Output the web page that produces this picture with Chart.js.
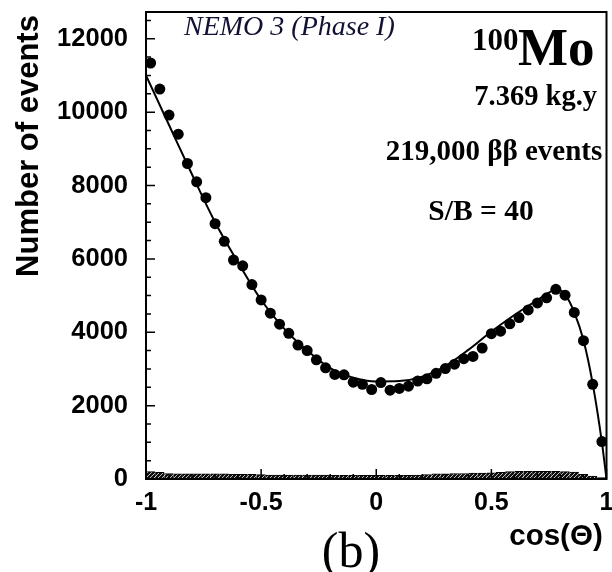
<!DOCTYPE html>
<html><head><meta charset="utf-8">
<script src="https://cdn.jsdelivr.net/npm/chart.js@4/dist/chart.umd.min.js"></script>
<style>html,body{margin:0;padding:0;background:#fff}#wrap{position:relative;width:612px;height:572px}</style>
</head><body><div id="wrap"><canvas id="c" width="612" height="572"></canvas></div>
<script>
// ---- data ----
const cosTheta = [-0.98,-0.94,-0.90,-0.86,-0.82,-0.78,-0.74,-0.70,-0.66,-0.62,
  -0.58,-0.54,-0.50,-0.46,-0.42,-0.38,-0.34,-0.30,-0.26,-0.22,
  -0.18,-0.14,-0.10,-0.06,-0.02,0.02,0.06,0.10,0.14,0.18,
  0.22,0.26,0.30,0.34,0.38,0.42,0.46,0.50,0.54,0.58,
  0.62,0.66,0.70,0.74,0.78,0.82,0.86,0.90,0.94,0.98];
const dataCounts = [11340,10630,9920,9400,8600,8100,7670,6960,6480,5970,
  5810,5300,4880,4520,4220,3970,3650,3500,3250,3030,
  2850,2840,2640,2580,2440,2630,2420,2470,2530,2670,
  2730,2880,3010,3130,3280,3340,3570,3960,4030,4230,
  4400,4610,4800,4940,5170,5010,4540,3770,2580,1020];
const bkgCounts = [200,180,150,140,140,140,140,140,140,130,
  130,130,120,110,110,110,110,110,110,110,
  100,100,100,100,100,100,100,100,100,110,
  120,140,140,150,150,160,160,170,180,200,
  210,210,210,210,210,200,190,130,80,40];
const fitX = [-1,-0.9,-0.8,-0.7,-0.6,-0.5,-0.4,-0.3,-0.2,-0.1,0,0.1,0.2,0.3,0.4,0.5,0.6,0.7,0.75,0.78,0.82,0.86,0.9,0.94,0.98,1];
const fitY = [11000,9650,8300,7000,5900,4880,4100,3500,3020,2760,2660,2670,2790,3080,3520,4020,4470,4880,5080,5170,5030,4540,3780,2600,1000,0];
const xTickValues = [-1,-0.5,0,0.5,1];
const xTickLabels = ['-1','-0.5','0','0.5','1'];
const xMinorTicks = [-0.9,-0.8,-0.7,-0.6,-0.4,-0.3,-0.2,-0.1,0.1,0.2,0.3,0.4,0.6,0.7,0.8,0.9];
const yTickValues = [0,2000,4000,6000,8000,10000,12000];
const yMinorTicks = [500,1000,1500,2500,3000,3500,4500,5000,5500,6500,7000,7500,8500,9000,9500,10500,11000,11500,12500];
const yMax = 12730;

const SANS = '"Liberation Sans", Arial, sans-serif';
const SERIF = '"Liberation Serif", "Times New Roman", serif';

// hatch pattern for background histogram
const pc = document.createElement('canvas'); pc.width = 4; pc.height = 4;
const px = pc.getContext('2d');
px.fillStyle = '#111'; px.fillRect(0,0,4,4);
px.strokeStyle = '#bbb'; px.lineWidth = 1;
px.beginPath(); px.moveTo(0,4); px.lineTo(4,0); px.stroke();
const ctx = document.getElementById('c').getContext('2d');
const hatch = ctx.createPattern(pc, 'repeat');

const decor = {
  id: 'decor',
  afterDraw(chart) {
    const c = chart.ctx, a = chart.chartArea;
    const xs = chart.scales.x, ys = chart.scales.y;
    c.save();
    c.strokeStyle = '#000';
    // frame
    c.lineWidth = 2;
    c.strokeRect(a.left, a.top, a.right - a.left, a.bottom - a.top);
    // ticks (inward)
    c.lineWidth = 1.5;
    c.beginPath();
    yTickValues.forEach(v => { const y = ys.getPixelForValue(v); c.moveTo(a.left, y); c.lineTo(a.left + 9, y); });
    yMinorTicks.forEach(v => { const y = ys.getPixelForValue(v); c.moveTo(a.left, y); c.lineTo(a.left + 5, y); });
    xTickValues.forEach(v => { const x = xs.getPixelForValue(v); c.moveTo(x, a.bottom); c.lineTo(x, a.bottom - 10); });
    xMinorTicks.forEach(v => { const x = xs.getPixelForValue(v); c.moveTo(x, a.bottom); c.lineTo(x, a.bottom - 5); });
    c.stroke();
    // texts
    c.fillStyle = '#000';
    c.textBaseline = 'alphabetic';
    // y title
    c.save();
    c.translate(38, 146);
    c.rotate(-Math.PI / 2);
    c.textAlign = 'center';
    c.font = 'bold 31px ' + SANS;
    c.fillText('Number of events', 0, 0);
    c.restore();
    // x title
    c.textAlign = 'center';
    c.font = 'bold 29.5px ' + SANS;
    c.fillText('cos(\u0398)', 556, 545);
    // (b)
    c.font = '50px ' + SERIF;
    c.fillText('(b)', 351, 567);
    // NEMO
    c.textAlign = 'left';
    c.fillStyle = '#111133';
    c.font = 'italic 28px ' + SERIF;
    c.fillText('NEMO 3 (Phase I)', 184, 35);
    c.fillStyle = '#000';
    // 100Mo
    c.font = 'bold 31px ' + SERIF;
    c.fillText('100', 472, 50);
    c.font = 'bold 53px ' + SERIF;
    c.fillText('Mo', 518, 65);
    c.textAlign = 'right';
    c.font = 'bold 28.5px ' + SERIF;
    c.fillText('7.369 kg.y', 597, 105);
    c.textAlign = 'center';
    c.font = 'bold 29px ' + SERIF;
    c.fillText('219,000 \u03B2\u03B2 events', 494, 160);
    c.font = 'bold 29.5px ' + SERIF;
    c.fillText('S/B = 40', 481, 220);
    c.restore();
  }
};

new Chart(ctx, {
  type: 'bar',
  data: {
    datasets: [
      { type: 'scatter', label: 'data', data: cosTheta.map((x, i) => ({ x, y: dataCounts[i] })),
        backgroundColor: '#000', borderColor: '#000', pointRadius: 5.5, borderWidth: 0, order: 0 },
      { type: 'line', label: 'fit', data: fitX.map((x, i) => ({ x, y: fitY[i] })),
        borderColor: '#000', borderWidth: 2, pointRadius: 0, cubicInterpolationMode: 'monotone', fill: false, order: 1 },
      { type: 'bar', label: 'background', data: cosTheta.map((x, i) => ({ x, y: bkgCounts[i] })),
        backgroundColor: hatch, borderColor: '#000', borderWidth: { top: 1, left: 0, right: 0, bottom: 0 },
        borderSkipped: 'start', barPercentage: 1, categoryPercentage: 1, order: 2 }
    ]
  },
  options: {
    responsive: false, animation: false,
    layout: { padding: { top: 12, right: 5, left: 0, bottom: 0 } },
    plugins: { legend: { display: false }, tooltip: { enabled: false } },
    scales: {
      x: {
        type: 'linear', min: -1, max: 1, offset: false,
        afterBuildTicks: s => { s.ticks = xTickValues.map(v => ({ value: v })); },
        afterFit: s => { s.height = 93; s.paddingLeft = 0; s.paddingRight = 0; },
        grid: { display: false, drawTicks: false }, border: { display: false },
        ticks: { color: '#000', padding: 9, maxRotation: 0, autoSkip: false,
          font: { family: SANS, weight: 'bold', size: 25 },
          callback: (v) => xTickLabels[xTickValues.indexOf(v)] }
      },
      y: {
        min: 0, max: yMax,
        afterBuildTicks: s => { s.ticks = yTickValues.map(v => ({ value: v })); },
        afterFit: s => { s.width = 146; s.paddingTop = 0; s.paddingBottom = 0; },
        grid: { display: false, drawTicks: false }, border: { display: false },
        ticks: { color: '#000', padding: 18, autoSkip: false,
          font: { family: SANS, weight: 'bold', size: 25.5 },
          callback: (v) => String(v) }
      }
    }
  },
  plugins: [decor]
});
</script></body></html>
